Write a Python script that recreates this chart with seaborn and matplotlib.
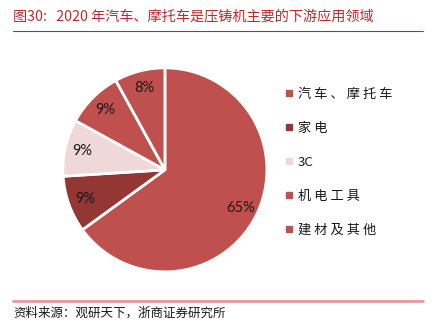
import matplotlib.pyplot as plt
import seaborn as sns
from matplotlib.lines import Line2D

sns.set_theme(style="white")
plt.rcParams["font.family"] = ["Noto Sans CJK SC", "DejaVu Sans"]

# data
categories = ["汽车、摩托车", "家电", "3C", "机电工具", "建材及其他"]
shares = [65, 9, 9, 9, 8]
colors = ["#c0504d", "#943634", "#efd8d7", "#c0504d", "#c0504d"]

title = "图30:   2020 年汽车、摩托车是压铸机主要的下游应用领域"
source = "资料来源：观研天下，浙商证券研究所"
red = "#c0282d"

fig = plt.figure(figsize=(4.34, 3.34), dpi=100)
ax = fig.add_axes([0.145, 0.186, 0.470, 0.611])

wedges, _, autotexts = ax.pie(
    shares,
    colors=colors,
    startangle=90,
    counterclock=False,
    autopct="%d%%",
    pctdistance=0.83,
    wedgeprops=dict(edgecolor="white", linewidth=2),
    textprops=dict(fontsize=10.5, color="#1a1a1a", family=["Lato", "DejaVu Sans"]),
)
ax.set_xlim(-1.0, 1.0)
ax.set_ylim(-1.0, 1.0)
ax.set_aspect("equal")
ax.axis("off")

# spaced legend labels like the original
def spaced(s):
    return s if s.isascii() else " ".join(s)

handles = [
    Line2D([], [], marker="s", linestyle="none", markersize=4,
           markerfacecolor=c, markeredgecolor=c)
    for c in colors
]
fig.legend(
    handles, [spaced(c) for c in categories],
    loc="upper left", bbox_to_anchor=(0.63, 0.772),
    frameon=False, fontsize=9.5, handlelength=0.6, handletextpad=0.35,
    labelspacing=1.58, labelcolor="#1a1a1a",
)

fig.text(0.03, 0.952, title, fontsize=10.2, color=red, va="center", ha="left")
fig.add_artist(Line2D([0.03, 0.975], [0.907, 0.907], color=red, linewidth=0.8))
fig.add_artist(Line2D([0.03, 0.975], [0.099, 0.099], color="#e8999a", linewidth=2))
fig.text(0.03, 0.062, source, fontsize=9, color="#1a1a1a", va="center", ha="left")

fig.savefig("out.png", dpi=100)
